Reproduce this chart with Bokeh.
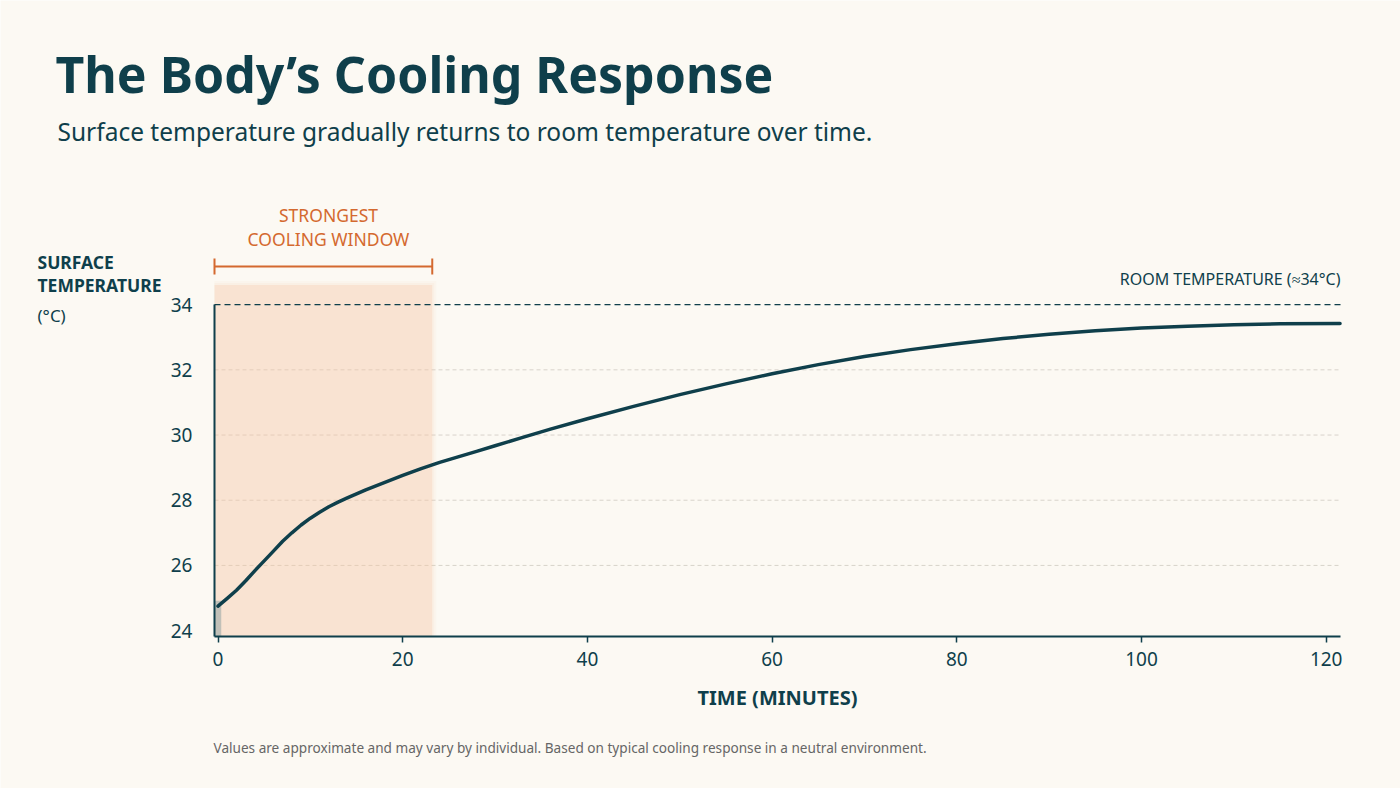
from bokeh.plotting import figure
from bokeh.models import Range1d, FixedTicker, Label
from bokeh.embed import file_html
from bokeh.resources import INLINE

# ---- data ----
time_min = [0, 1, 2, 3, 4, 5, 6, 7, 8, 9, 10, 11, 12, 13, 14, 16, 18, 20, 22, 24,
            26, 28, 30, 33, 36, 40, 45, 50, 55, 60, 65, 70, 75, 80, 85, 90, 95,
            100, 105, 110, 115, 121.5]
surface_temp = [24.75, 24.99, 25.24, 25.53, 25.84, 26.14, 26.44, 26.74, 27.0, 27.24,
                27.45, 27.63, 27.8, 27.94, 28.07, 28.32, 28.54, 28.76, 28.97, 29.16,
                29.33, 29.5, 29.67, 29.93, 30.18, 30.5, 30.88, 31.24, 31.57, 31.88,
                32.16, 32.41, 32.62, 32.8, 32.96, 33.09, 33.2, 33.28, 33.34, 33.38,
                33.41, 33.42]
x_ticks = [0, 20, 40, 60, 80, 100, 120]
y_ticks = [24, 26, 28, 30, 32, 34]
grid_ticks = [26, 28, 30, 32]
room_temp = 34
window_start = -0.38
window_end = 23.2
window_top = 34.6
start_time = [0]
start_temp = [24.92]

BG = "#fcf9f3"
TEAL = "#0f3f4b"
ORANGE = "#d4692f"
FONT = "Noto Sans"

W, H = 1400, 788
# axis placement (px) and scale
AX_L, AX_R, AX_B = 214, 1340, 636
ax_x0, ax_x1 = window_start, 121.55
ax_y0 = 23.82
PX_PER_MIN = (AX_R - AX_L) / (ax_x1 - ax_x0)
PX_PER_DEG = 32.6

x_start = ax_x0 - AX_L / PX_PER_MIN
x_end = ax_x1 + (W - AX_R) / PX_PER_MIN
y_start = ax_y0 - (H - AX_B) / PX_PER_DEG
y_end = ax_y0 + AX_B / PX_PER_DEG

def dx(px):
    return x_start + px / PX_PER_MIN

def dy(py):
    return y_end - py / PX_PER_DEG

p = figure(width=W, height=H, output_backend="svg", toolbar_location=None,
           x_range=Range1d(x_start, x_end), y_range=Range1d(y_start, y_end),
           min_border=0)
p.background_fill_color = BG
p.border_fill_color = BG
p.outline_line_color = None
p.grid.visible = False

# axes
xa = p.xaxis[0]
xa.fixed_location = ax_y0
xa.bounds = (ax_x0, ax_x1)
xa.ticker = FixedTicker(ticks=x_ticks)
xa.axis_line_color = TEAL
xa.axis_line_width = 2
xa.major_tick_line_color = TEAL
xa.major_tick_line_width = 1.5
xa.major_tick_out = 6
xa.major_tick_in = 0
xa.minor_tick_line_color = None
xa.major_label_text_font = FONT
xa.major_label_text_font_size = "19px"
xa.major_label_text_color = TEAL
xa.major_label_standoff = 9
xa.axis_label = "TIME (MINUTES)"
xa.axis_label_text_font = FONT
xa.axis_label_text_font_style = "bold"
xa.axis_label_text_font_size = "20px"
xa.axis_label_text_color = TEAL
xa.axis_label_standoff = 15

ya = p.yaxis[0]
ya.fixed_location = ax_x0
ya.bounds = (ax_y0, room_temp)
ya.ticker = FixedTicker(ticks=y_ticks)
ya.axis_line_color = TEAL
ya.axis_line_width = 2
ya.major_tick_line_color = None
ya.minor_tick_line_color = None
ya.major_label_text_font = FONT
ya.major_label_text_font_size = "19px"
ya.major_label_text_color = TEAL
ya.major_label_standoff = 16

# horizontal grid lines within the axis extent
p.segment(x0=[ax_x0] * len(grid_ticks), x1=[ax_x1] * len(grid_ticks),
          y0=grid_ticks, y1=grid_ticks, line_color="#d8d3cb",
          line_dash="4 3", line_width=1)

# strongest cooling window shading (soft edges)
for k, a in [(4, 0.08), (2, 0.1), (0, 0.3)]:
    e = k / PX_PER_MIN
    ey = k / PX_PER_DEG
    p.quad(left=[window_start], right=[window_end + e], bottom=[ax_y0],
           top=[window_top + ey], fill_color="#f7c7a5", fill_alpha=a,
           line_color=None)

# start marker
p.quad(left=[t - 0.35 for t in start_time], right=[t + 0.35 for t in start_time],
       bottom=[ax_y0], top=start_temp, fill_color="#a9b0ad", fill_alpha=0.7,
       line_color=None)

# room temperature line
p.line([ax_x0, ax_x1], [room_temp, room_temp], line_color=TEAL,
       line_width=1.2, line_dash="6 4")

# curve
p.line(time_min, surface_temp, line_color=TEAL, line_width=3.5,
       line_join="round", line_cap="round")

# bracket
by = dy(266)
cap = 8 / PX_PER_DEG
p.segment(x0=[window_start], y0=[by], x1=[window_end], y1=[by],
          line_color=ORANGE, line_width=2)
p.segment(x0=[window_start, window_end], y0=[by - cap, by - cap],
          x1=[window_start, window_end], y1=[by + cap, by + cap],
          line_color=ORANGE, line_width=2)

def lab(text, px, py, size, color=TEAL, bold=False, align="left", baseline="middle"):
    p.add_layout(Label(x=dx(px), y=dy(py), text=text, text_font=FONT,
                       text_font_size=size, text_color=color,
                       text_font_style="bold" if bold else "normal",
                       text_align=align, text_baseline=baseline))

lab("STRONGEST", 328, 214, "17.5px", ORANGE, align="center")
lab("COOLING WINDOW", 328, 238, "17.5px", ORANGE, align="center")
lab("ROOM TEMPERATURE (≈34°C)", AX_R, 278, "16px", align="right")

lab("SURFACE", 37, 261, "17.5px", bold=True)
lab("TEMPERATURE", 37, 284, "17.5px", bold=True)
lab("(°C)", 37, 315, "17px")

lab("The Body’s Cooling Response", 55, 73, "50px", bold=True)
lab("Surface temperature gradually returns to room temperature over time.",
    57, 131, "24.5px")
lab("Values are approximate and may vary by individual. Based on typical cooling "
    "response in a neutral environment.", 213, 747, "13.6px", color="#666666")

open("out.html", "w").write(file_html(p, INLINE))
